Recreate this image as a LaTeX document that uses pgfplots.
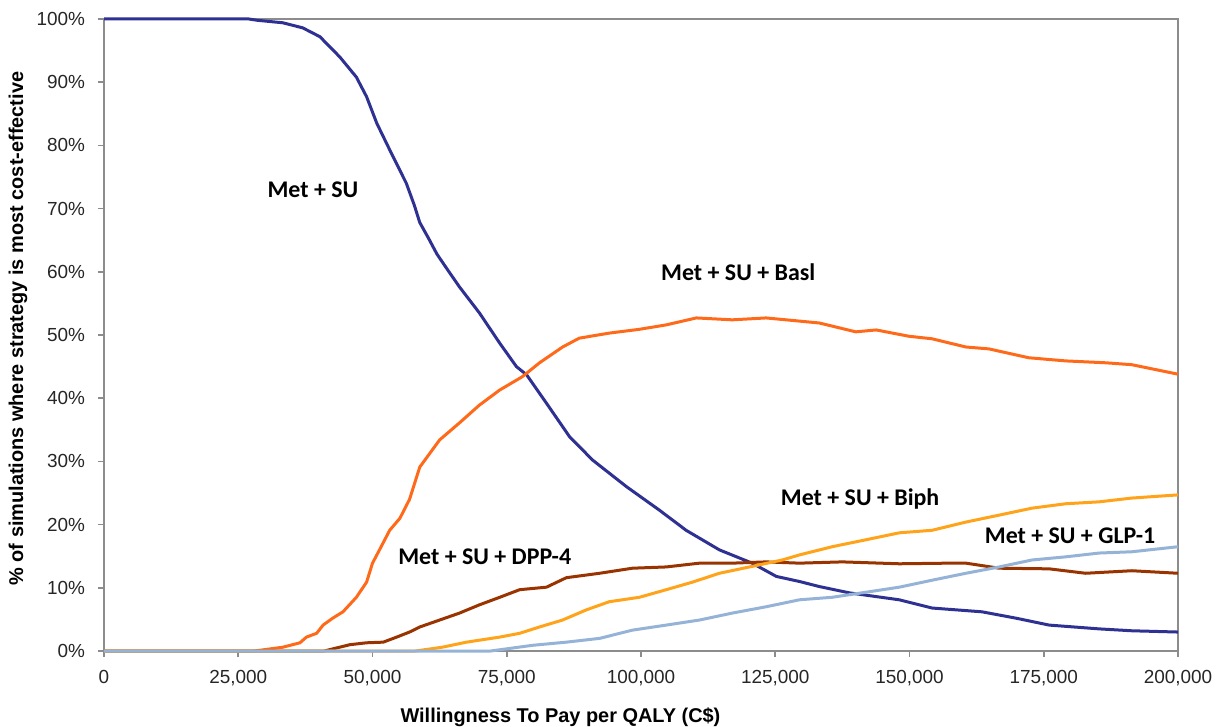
\documentclass[border=0pt]{standalone}
\usepackage{fontspec}
\setmainfont{Liberation Sans}
\newfontfamily\carlito{Carlito}
\usepackage{pgfplots}
\pgfplotsset{compat=1.18}
\definecolor{cmetsu}{HTML}{2E3192}
\definecolor{cbasl}{HTML}{FF6A1A}
\definecolor{cdpp}{HTML}{993300}
\definecolor{cbiph}{HTML}{FFA31A}
\definecolor{cglp}{HTML}{95B3D7}
\definecolor{caxis}{HTML}{8C8C8C}

\begin{document}
\begin{tikzpicture}
\begin{axis}[
  scale only axis, width=537bp, height=316bp,
  xmin=0, xmax=200000, ymin=0, ymax=100,
  xtick={0,25000,...,200000}, ytick={0,10,...,100},
  scaled x ticks=false,
  tick pos=left, tick align=outside, major tick length=3bp,
  tick style={caxis, line width=0.8bp},
  axis line style={caxis, line width=0.8bp},
  /pgf/number format/assume math mode=true,
  tick label style={font=\fontsize{9.5}{11}\selectfont, black!85},
  xticklabel style={yshift=-3bp, /pgf/number format/.cd, fixed, precision=0, 1000 sep={,}},
  yticklabel style={xshift=-3bp},
  yticklabel={\pgfmathprintnumber[fixed,precision=0]{\tick}\%},
  xlabel={Willingness To Pay per QALY (C\$)},
  ylabel={\% of simulations where strategy is most cost-effective},
  xlabel style={font=\bfseries\fontsize{10}{12}\selectfont, at={(axis description cs:0.425,-0.1044)}, anchor=center},
  ylabel style={font=\bfseries\fontsize{10}{12}\selectfont, at={(axis description cs:-0.0801,0.51)}, anchor=center},
  every axis plot/.append style={line width=1.5bp, line join=round},
  clip=false,
]
\coordinate (bl) at (rel axis cs:0,0);
\coordinate (tr) at (rel axis cs:1,1);
% Met + SU
\addplot[cmetsu] coordinates {
(0,100) (27000,100) (28500,99.8) (33300,99.4) (37000,98.6) (40200,97.2)
(43900,94) (47000,90.8) (48900,87.7) (50800,83.5) (53200,79.3) (56300,74)
(57800,70.5) (58800,67.8) (60500,65.2) (62000,62.8) (64000,60.3) (66200,57.6)
(69900,53.5) (73700,48.7) (76800,45)
(78700,43.7) (82400,39.2) (86700,33.9) (91000,30.2) (97300,26) (103400,22.3)
(108400,19.1) (114600,16) (120700,13.9) (125200,11.8) (129500,11) (133200,10.2)
(138800,9.2) (148100,8.1) (154200,6.8) (163500,6.2) (169800,5.2) (176000,4.1)
(185300,3.5) (191400,3.2) (200000,3.0)};
% Met + SU + Basl
\addplot[cbasl] coordinates {
(0,0) (28000,0) (33300,0.6) (36500,1.3) (37700,2.2) (39600,2.8) (40800,4.1)
(42600,5.2) (44500,6.2) (47000,8.5) (48900,10.9) (50000,13.9) (51300,16)
(53200,19.1) (55100,21) (56900,24) (58800,29.1) (62500,33.4) (66200,36.1)
(69900,38.9) (73700,41.3) (77900,43.4) (81100,45.6) (85400,48.1) (88500,49.5)
(94100,50.3) (99700,50.9) (104700,51.6) (110300,52.7) (117000,52.4) (123300,52.7)
(133200,51.9) (140000,50.5) (143800,50.8) (149900,49.8) (154200,49.4) (160500,48.1)
(164800,47.8) (172200,46.4) (179100,45.9) (186600,45.6) (191400,45.3) (200000,43.8)};
% Met + SU + DPP-4
\addplot[cdpp] coordinates {
(0,0) (41000,0) (45800,1) (48900,1.3) (52000,1.4) (54500,2.2) (56900,3)
(58800,3.8) (62500,4.9) (66200,6) (69900,7.3) (73700,8.5) (77400,9.7)
(82400,10.1) (86100,11.6) (92300,12.3) (98400,13.1) (104700,13.3) (110900,13.9)
(117000,13.9) (123300,14.1) (129500,13.9) (137500,14.1) (148100,13.8) (157400,13.9)
(160500,13.9) (166700,13.1) (176000,13) (182800,12.3) (191400,12.7) (200000,12.3)};
% Met + SU + Biph
\addplot[cbiph] coordinates {
(0,0) (58000,0) (63000,0.6) (67500,1.4) (73700,2.2) (77400,2.8) (81100,3.8)
(85400,4.9) (89800,6.5) (94100,7.8) (99700,8.5) (104700,9.7) (109600,10.9)
(114600,12.3) (120200,13.3) (126300,14.4) (129500,15.2) (135600,16.5) (141900,17.6)
(148100,18.7) (154200,19.1) (160500,20.4) (166700,21.5) (172800,22.6) (179100,23.3)
(185300,23.6) (191400,24.2) (200000,24.7)};
% Met + SU + GLP-1
\addplot[cglp] coordinates {
(0,0) (72000,0) (79800,0.9) (86100,1.4) (92300,2) (98400,3.3) (104700,4.1)
(110900,4.9) (117000,6) (123300,7) (129500,8.1) (135600,8.5) (141900,9.3)
(148100,10.1) (154200,11.2) (160500,12.3) (166700,13.3) (172800,14.4) (179100,14.9)
(185300,15.5) (191400,15.7) (200000,16.5)};
\begin{scope}[every node/.style={font=\carlito\bfseries\fontsize{12}{14}\selectfont, anchor=center}]
\node at (axis cs:38900,73) {Met + SU};
\node at (axis cs:118100,59.9) {Met + SU + Basl};
\node at (axis cs:70900,14.9) {Met + SU + DPP-4};
\node at (axis cs:140800,24) {Met + SU + Biph};
\node at (axis cs:179900,18.2) {Met + SU + GLP-1};
\end{scope}
\end{axis}
\pgfresetboundingbox
\path[use as bounding box] ([shift={(-52bp,-38bp)}]bl) rectangle ([shift={(22bp,9.5bp)}]tr);
\end{tikzpicture}
\end{document}
